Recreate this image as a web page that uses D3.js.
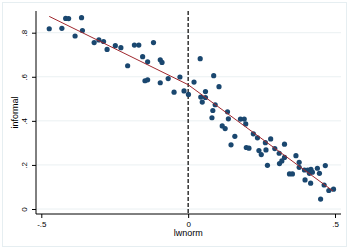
<!DOCTYPE html>
<html>
<head>
<meta charset="utf-8">
<script src="https://cdn.jsdelivr.net/npm/d3@7"></script>
<style>
	body { margin: 0; background: #fff; }
	svg { display: block; font-family: Arial, "Liberation Sans", sans-serif; }
</style>
</head>
<body>
<svg width="353" height="250"></svg>
<script>
// scatter points (lwnorm, informal)
let lwnorm = [-0.473, -0.430, -0.417, -0.407, -0.363, -0.385, -0.360, -0.320, -0.304, -0.288,
	-0.276, -0.248, -0.229, -0.206, -0.183, -0.168, -0.118, -0.155, -0.138, -0.095,
	-0.089, -0.147, -0.138, -0.095, -0.068, -0.028, -0.048, -0.014, 0.001, 0.020,
	0.041, 0.087, 0.105, 0.059, 0.043, 0.059, 0.048, 0.092, 0.084, 0.134,
	0.081, 0.137, 0.178, 0.191, 0.196, 0.116, 0.126, 0.159, 0.146, 0.222,
	0.236, 0.198, 0.207, 0.241, 0.249, 0.265, 0.263, 0.281, 0.295, 0.310,
	0.328, 0.328, 0.319, 0.311, 0.270, 0.367, 0.378, 0.378, 0.345, 0.355,
	0.396, 0.407, 0.418, 0.413, 0.423, 0.440, 0.447, 0.467, 0.398, 0.417,
	0.463, 0.479, 0.495, 0.451];
let informal = [0.818, 0.820, 0.865, 0.864, 0.868, 0.785, 0.810, 0.755, 0.767, 0.760,
	0.724, 0.741, 0.732, 0.650, 0.744, 0.744, 0.755, 0.691, 0.668, 0.677,
	0.665, 0.582, 0.586, 0.573, 0.592, 0.599, 0.530, 0.536, 0.520, 0.576,
	0.682, 0.605, 0.555, 0.533, 0.508, 0.506, 0.485, 0.473, 0.447, 0.441,
	0.414, 0.409, 0.408, 0.408, 0.386, 0.377, 0.365, 0.330, 0.291, 0.341,
	0.323, 0.279, 0.276, 0.265, 0.247, 0.268, 0.301, 0.318, 0.274, 0.253,
	0.294, 0.234, 0.218, 0.206, 0.198, 0.242, 0.212, 0.189, 0.159, 0.159,
	0.177, 0.177, 0.180, 0.162, 0.167, 0.185, 0.162, 0.197, 0.132, 0.117,
	0.109, 0.084, 0.090, 0.045];

// piecewise linear fit
let fitX = [-0.473, 0, 0.493];
let fitY = [0.874, 0.564, 0.082];

let xTicks = [-0.5, 0, 0.5];
let xTickLabels = ['-.5', '0', '.5'];
let yTicks = [0, 0.2, 0.4, 0.6, 0.8];
let yTickLabels = ['0', '.2', '.4', '.6', '.8'];

let svg = d3.select('svg');

// outer frame
svg.append('rect')
	.attr('x', 2.5).attr('y', 2.5)
	.attr('width', 344).attr('height', 244)
	.attr('fill', '#fff')
	.attr('stroke', '#e6eef1');

let xScale = d3.scaleLinear().domain([-0.5, 0.5]).range([41.3, 335]);
let yScale = d3.scaleLinear().domain([0, 0.8]).range([209, 32.7]);

let plotLeft = 36, plotRight = 341, plotTop = 11, plotBottom = 214;

// gridlines
svg.append('g').selectAll('line').data(yTicks).enter().append('line')
	.attr('x1', plotLeft).attr('x2', plotRight)
	.attr('y1', d => yScale(d)).attr('y2', d => yScale(d))
	.attr('stroke', '#eaf0f2').attr('stroke-width', 1);

// y axis
let yAxis = svg.append('g')
	.attr('transform', 'translate(' + plotLeft + ',0)')
	.call(d3.axisLeft(yScale).tickValues(yTicks).tickSize(4).tickSizeOuter(0)
		.tickFormat((d, i) => yTickLabels[i]));
yAxis.select('.domain').remove();
yAxis.append('line').attr('x1', 0).attr('x2', 0).attr('y1', plotTop).attr('y2', plotBottom)
	.attr('stroke', '#000').attr('stroke-width', 1);
yAxis.selectAll('.tick text')
	.attr('font-size', 8).attr('fill', '#000')
	.attr('text-anchor', 'middle')
	.attr('x', 0).attr('dy', 0)
	.attr('transform', 'translate(-9,0) rotate(-90)');

// x axis
let xAxis = svg.append('g')
	.attr('transform', 'translate(0,' + plotBottom + ')')
	.call(d3.axisBottom(xScale).tickValues(xTicks).tickSize(4).tickSizeOuter(0)
		.tickFormat((d, i) => xTickLabels[i]));
xAxis.select('.domain').remove();
xAxis.append('line').attr('x1', plotLeft).attr('x2', plotRight).attr('y1', 0).attr('y2', 0)
	.attr('stroke', '#000').attr('stroke-width', 1);
xAxis.selectAll('.tick text').attr('font-size', 8).attr('fill', '#000').attr('y', 7);

// axis titles
svg.append('text')
	.attr('x', xScale(0)).attr('y', 236)
	.attr('text-anchor', 'middle')
	.attr('font-size', 9)
	.text('lwnorm');
svg.append('text')
	.attr('transform', 'translate(18,' + ((plotTop + plotBottom) / 2) + ') rotate(-90)')
	.attr('text-anchor', 'middle')
	.attr('font-size', 9)
	.text('informal');

// dashed reference line at x = 0
svg.append('line')
	.attr('x1', xScale(0)).attr('x2', xScale(0))
	.attr('y1', plotTop).attr('y2', plotBottom)
	.attr('stroke', '#000').attr('stroke-width', 1.2)
	.attr('stroke-dasharray', '4,2');

// points
let points = lwnorm.map((d, i) => ({ x: d, y: informal[i] }));
svg.append('g').selectAll('circle').data(points).enter().append('circle')
	.attr('cx', d => xScale(d.x))
	.attr('cy', d => yScale(d.y))
	.attr('r', 2.6)
	.attr('fill', '#1a476f');

// fit line
let line = d3.line().x(d => xScale(d[0])).y(d => yScale(d[1]));
svg.append('path')
	.datum(fitX.map((d, i) => [d, fitY[i]]))
	.attr('d', line)
	.attr('fill', 'none')
	.attr('stroke', '#a0282e')
	.attr('stroke-width', 1);
</script>
</body>
</html>
